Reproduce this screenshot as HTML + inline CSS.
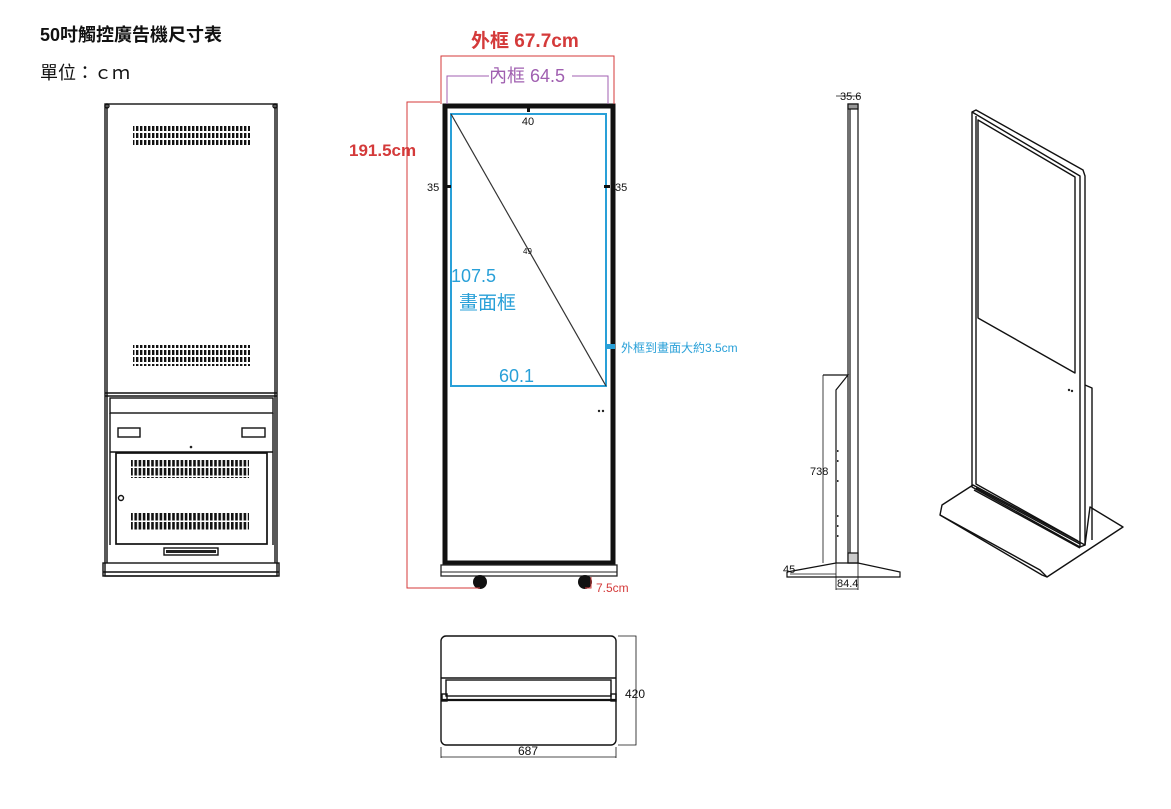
<!DOCTYPE html>
<html><head><meta charset="utf-8"><style>
html,body{margin:0;padding:0;background:#fff;}
svg{display:block;}
text{font-family:"Liberation Sans","Noto Sans CJK TC",sans-serif;}
</style></head><body>
<svg width="1171" height="809" viewBox="0 0 1171 809" xmlns="http://www.w3.org/2000/svg">
<defs>
<pattern id="vent" x="0" y="0" width="4" height="7" patternUnits="userSpaceOnUse"><rect x="0" y="0" width="2.4" height="5" fill="#111"/></pattern>
<pattern id="vent2" x="0" y="0" width="4.2" height="9" patternUnits="userSpaceOnUse"><rect x="0" y="0" width="2.6" height="7.5" fill="#111"/></pattern>
</defs>
<text x="40" y="41" font-size="18" font-weight="bold" fill="#111">50吋觸控廣告機尺寸表</text>
<text x="40" y="79" font-size="18" fill="#111">單位：ｃｍ</text>

<!-- back view -->
<g fill="none" stroke="#111" stroke-width="1.4">
<rect x="105" y="104" width="172" height="472"/>
<line x1="107" y1="104" x2="107" y2="563"/><line x1="275" y1="104" x2="275" y2="563"/>
<circle cx="107" cy="106" r="2"/><circle cx="275" cy="106" r="2"/>
<line x1="105" y1="393" x2="277" y2="393"/>
<line x1="105" y1="396" x2="277" y2="396"/>
<rect x="110" y="398" width="163" height="15"/>
<line x1="110" y1="452" x2="273" y2="452"/>
<line x1="110" y1="413" x2="110" y2="545"/><line x1="273" y1="413" x2="273" y2="545"/>
<rect x="118" y="428" width="22" height="9"/><rect x="242" y="428" width="23" height="9"/>
<rect x="116" y="453" width="151" height="91" stroke-width="1.7"/>
<circle cx="121" cy="498" r="2.5"/>
<rect x="164" y="548" width="54" height="7"/>
<rect x="103" y="563" width="176" height="13"/>
<line x1="103" y1="572" x2="279" y2="572"/>
</g>
<circle cx="191" cy="447" r="1.3" fill="#222"/>
<rect x="133" y="126" width="117" height="21" fill="url(#vent)"/>
<rect x="133" y="345" width="117" height="21" fill="url(#vent)"/>
<rect x="131" y="460" width="118" height="18" fill="url(#vent2)"/>
<rect x="131" y="513" width="118" height="18" fill="url(#vent2)"/>
<g fill="#222"><rect x="166" y="550" width="50" height="3"/></g>

<!-- front view -->
<rect x="445" y="106" width="168" height="457" fill="none" stroke="#111" stroke-width="5"/>
<rect x="451" y="114" width="155" height="272" fill="none" stroke="#29a0d8" stroke-width="2"/>
<line x1="451" y1="114" x2="606" y2="386" stroke="#333" stroke-width="1.2"/>
<rect x="441" y="565" width="176" height="11" fill="none" stroke="#222" stroke-width="1.3"/>
<line x1="441" y1="572" x2="617" y2="572" stroke="#222" stroke-width="1"/>
<circle cx="480" cy="582" r="7" fill="#111"/><circle cx="585" cy="582" r="7" fill="#111"/>
<rect x="527" y="107" width="3" height="5" fill="#111"/>
<rect x="446" y="185" width="5" height="3" fill="#111"/>
<rect x="604" y="185" width="6" height="3" fill="#111"/>
<rect x="605" y="344" width="10" height="5" fill="#29a0d8"/>
<circle cx="599" cy="411" r="1.2" fill="#222"/><circle cx="603" cy="411" r="1.2" fill="#222"/>
<text x="528" y="125" font-size="11" text-anchor="middle" fill="#111">40</text>
<text x="427" y="191" font-size="11" fill="#111">35</text>
<text x="615" y="191" font-size="11" fill="#111">35</text>
<text x="523" y="254" font-size="8" fill="#111">49</text>
<text x="451" y="282" font-size="18" fill="#29a0d8">107.5</text>
<text x="459" y="309" font-size="19" fill="#29a0d8">畫面框</text>
<text x="499" y="382" font-size="18" fill="#29a0d8">60.1</text>
<text x="621" y="352" font-size="12" fill="#29a0d8">外框到畫面大約3.5cm</text>
<!-- red dims -->
<g stroke="#d43a3a" stroke-width="1" fill="none">
<polyline points="441,104 441,56 614,56 614,104"/>
<polyline points="440,102 407,102 407,588 480,588"/>
<polyline points="585,588 591,588 591,577"/>
</g>
<polyline points="447,104 447,76 489,76" stroke="#a05fb0" fill="none"/>
<polyline points="572,76 608,76 608,104" stroke="#a05fb0" fill="none"/>
<text x="471" y="47" font-size="19" fill="#d43a3a" font-weight="600">外框  67.7cm</text>
<text x="489" y="82" font-size="18" fill="#a05fb0">內框 64.5</text>
<text x="349" y="156" font-size="17" fill="#d43a3a" font-weight="600">191.5cm</text>
<text x="596" y="592" font-size="12" fill="#d43a3a">7.5cm</text>

<!-- bottom view -->
<g fill="none" stroke="#111" stroke-width="1.4">
<rect x="441" y="636" width="175" height="109" rx="5"/>
<line x1="441" y1="678" x2="616" y2="678"/>
<rect x="446" y="680" width="165" height="16"/>
<line x1="441" y1="700" x2="616" y2="700" stroke-width="2.2"/>
<rect x="442" y="694" width="5" height="7"/><rect x="611" y="694" width="5" height="7"/>
<polyline points="618,636 636,636 636,745 618,745" stroke-width="0.8"/>
<line x1="441" y1="747" x2="441" y2="758" stroke-width="0.8"/>
<line x1="616" y1="747" x2="616" y2="758" stroke-width="0.8"/>
<line x1="441" y1="757" x2="616" y2="757" stroke-width="0.8"/>
</g>
<text x="625" y="698" font-size="12" fill="#111">420</text>
<text x="518" y="755" font-size="12" fill="#111">687</text>

<!-- side view -->
<g fill="none" stroke="#111" stroke-width="1.2">
<rect x="848" y="104" width="10" height="459"/>
<line x1="850" y1="104" x2="850" y2="563"/>
<rect x="848" y="104" width="10" height="5" fill="#999"/>
<rect x="848" y="553" width="10" height="10" fill="#ccc"/>
<polyline points="823,375 848,375 836,390 836,563"/>
<line x1="823" y1="375" x2="823" y2="563" stroke-width="0.8"/>
<polyline points="787,572 836,563 858,563 900,572 900,577 787,577 787,572"/>
<line x1="836" y1="563" x2="836" y2="590" stroke-width="0.8"/>
<line x1="858" y1="563" x2="858" y2="590" stroke-width="0.8"/>
<line x1="836" y1="589" x2="858" y2="589" stroke-width="0.8"/>
<line x1="836" y1="96" x2="860" y2="96" stroke-width="0.8"/>
<line x1="790" y1="574" x2="836" y2="574" stroke-width="0.8"/>
</g>
<g fill="#333"><rect x="837" y="450" width="1.5" height="2"/><rect x="837" y="460" width="1.5" height="2"/><rect x="837" y="480" width="1.5" height="2"/><rect x="837" y="515" width="1.5" height="2"/><rect x="837" y="525" width="1.5" height="2"/><rect x="837" y="535" width="1.5" height="2"/></g>
<text x="840" y="100" font-size="11" fill="#111">35.6</text>
<text x="810" y="475" font-size="11" fill="#111">738</text>
<text x="783" y="573" font-size="11" fill="#111">45</text>
<text x="837" y="587" font-size="11" fill="#111">84.4</text>

<!-- perspective view -->
<g fill="none" stroke="#111" stroke-width="1.4" stroke-linejoin="round">
<polygon points="942,505 973,485 1085,545 1090,507 1123,527 1047,577 1042,575 940,515"/>
<polyline points="940,515 1040,570 1047,577"/>
<polygon points="972,112 976,110 1083,170 1085,176 1085,545 1080,547 972,487"/>
<polyline points="972,112 1080,176 1080,547"/>
<polyline points="976,116 976,484 1078,541"/>
<polygon points="978,120 1075,177 1075,373 978,318"/>
<polyline points="976,488 1080,544"/>
<polyline points="974,490 1080,548"/>
<polyline points="1085,385 1092,388 1092,540"/>
</g>
<circle cx="1069" cy="390" r="1.2" fill="#222"/><circle cx="1072" cy="391" r="1.2" fill="#222"/>
</svg>
</body></html>
